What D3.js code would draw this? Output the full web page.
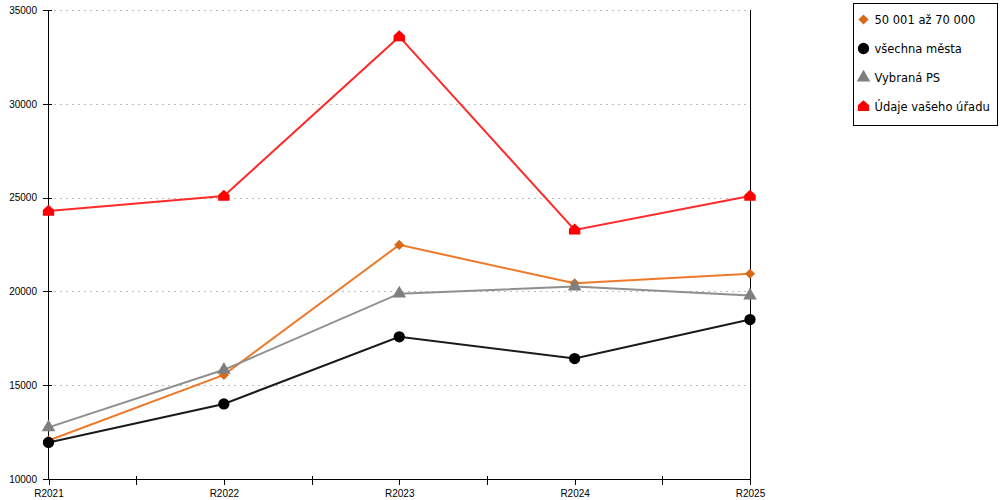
<!DOCTYPE html>
<html>
<head>
<meta charset="utf-8">
<script src="https://cdn.jsdelivr.net/npm/d3@7"></script>
<style>
  body { margin: 0; background: #fff; }
  svg { display: block; font-family: "DejaVu Sans", sans-serif; }
  .grid line { stroke: #bdbdbd; stroke-dasharray: 2,4; }
  .axis path, .axis line { stroke: #000; shape-rendering: crispEdges; }
  .axis text { font-size: 10px; fill: #000; }
  .legend text { font-size: 11.5px; fill: #000; }
</style>
</head>
<body>
<svg width="1000" height="500"></svg>
<script>

var categories = ["R2021", "R2022", "R2023", "R2024", "R2025"];
var yTicks = [10000, 15000, 20000, 25000, 30000, 35000];

var seriesNames = ["50 001 až 70 000", "všechna města", "Vybraná PS", "Údaje vašeho úřadu"];
var orangeValues = [12050, 15550, 22480, 20430, 20940];
var blackValues = [11950, 14000, 17580, 16420, 18500];
var greyValues = [12750, 15820, 19880, 20260, 19780];
var redValues = [24280, 25080, 33580, 23280, 25080];

var svg = d3.select("svg"),
    margin = {top: 10, right: 250, bottom: 21, left: 48},
    width = +svg.attr("width") - margin.left - margin.right,
    height = +svg.attr("height") - margin.top - margin.bottom,
    g = svg.append("g").attr("transform", "translate(" + margin.left + "," + margin.top + ")");

// square diamond (d3's one is too tall)
var symbolSquareDiamond = {
  draw: function(ctx, size) {
    var s = Math.sqrt(size / 2);
    ctx.moveTo(0, -s);
    ctx.lineTo(s, 0);
    ctx.lineTo(0, s);
    ctx.lineTo(-s, 0);
    ctx.closePath();
  }
};

// house shaped marker for the last series
var symbolHouse = {
  draw: function(ctx, size) {
    var s = Math.sqrt(size) / 2;
    ctx.moveTo(0, -s * 1.1);
    ctx.lineTo(s, -s * 0.2);
    ctx.lineTo(s, s * 0.8);
    ctx.lineTo(-s, s * 0.8);
    ctx.lineTo(-s, -s * 0.2);
    ctx.closePath();
  }
};

var series = [
  {name: seriesNames[0], values: orangeValues, line: "#ec7a2a", fill: "#d9691a", symbol: symbolSquareDiamond, size: 52},
  {name: seriesNames[1], values: blackValues, line: "#1a1a1a", fill: "#000", symbol: d3.symbolCircle, size: 100},
  {name: seriesNames[2], values: greyValues, line: "#8f8f8f", fill: "#7f7f7f", symbol: d3.symbolTriangle, size: 80},
  {name: seriesNames[3], values: redValues, line: "#ff2a2a", fill: "#ff0000", symbol: symbolHouse, size: 130}
];

var x = d3.scalePoint()
    .domain(categories)
    .range([0.5, width]);

var y = d3.scaleLinear()
    .domain([10000, 35000])
    .range([height, 0]);

// dotted horizontal grid
g.append("g")
    .attr("class", "grid")
  .selectAll("line")
  .data(yTicks.slice(1))
  .enter().append("line")
    .attr("x1", 0)
    .attr("x2", width)
    .attr("y1", function(d) { return Math.round(y(d)) + 0.5; })
    .attr("y2", function(d) { return Math.round(y(d)) + 0.5; });

// minor ticks between categories
var mids = categories.slice(1).map(function(c, i) {
  return (x(categories[i]) + x(c)) / 2;
});

g.append("g")
    .attr("class", "axis axis--x")
    .attr("transform", "translate(0," + height + ")")
    .call(d3.axisBottom(x).tickSize(6).tickSizeOuter(0).tickPadding(5));

g.append("g")
    .attr("class", "axis")
  .selectAll("line")
  .data(mids)
  .enter().append("line")
    .attr("x1", function(d) { return Math.round(d) + 0.5; })
    .attr("x2", function(d) { return Math.round(d) + 0.5; })
    .attr("y1", height - 3)
    .attr("y2", height + 6);

g.append("g")
    .attr("class", "axis axis--y")
    .call(d3.axisLeft(y).tickValues(yTicks).tickSizeOuter(0).tickSize(5).tickPadding(6).tickFormat(d3.format("d")));

// short inner part of y ticks
g.select(".axis--y").selectAll(".tick line").attr("x2", -5).attr("x1", 4);

// right border line
g.append("line")
    .attr("class", "axis")
    .attr("x1", Math.round(width) + 0.5)
    .attr("x2", Math.round(width) + 0.5)
    .attr("y1", 0)
    .attr("y2", height + 6)
    .attr("stroke", "#000");

var line = d3.line()
    .x(function(d, i) { return x(categories[i]); })
    .y(function(d) { return y(d); });

series.forEach(function(s) {
  g.append("path")
      .datum(s.values)
      .attr("fill", "none")
      .attr("stroke", s.line)
      .attr("stroke-width", 2)
      .attr("d", line);

  g.append("g")
    .selectAll("path")
    .data(s.values)
    .enter().append("path")
      .attr("transform", function(d, i) { return "translate(" + x(categories[i]) + "," + y(d) + ")"; })
      .attr("fill", s.fill)
      .attr("d", d3.symbol().type(s.symbol).size(s.size));
});

// legend
var legend = svg.append("g")
    .attr("class", "legend")
    .attr("transform", "translate(853.5,3.5)");

legend.append("rect")
    .attr("width", 144)
    .attr("height", 122)
    .attr("fill", "#fff")
    .attr("stroke", "#000");

var item = legend.selectAll(".item")
    .data(series)
  .enter().append("g")
    .attr("class", "item")
    .attr("transform", function(d, i) { return "translate(0," + (16 + i * 29) + ")"; });

item.append("path")
    .attr("transform", "translate(10,0)")
    .attr("fill", function(d) { return d.fill; })
    .attr("d", function(d) { return d3.symbol().type(d.symbol).size(d.size)(); });

item.append("text")
    .attr("x", 21)
    .attr("dy", "0.35em")
    .text(function(d) { return d.name; });

</script>
</body>
</html>
